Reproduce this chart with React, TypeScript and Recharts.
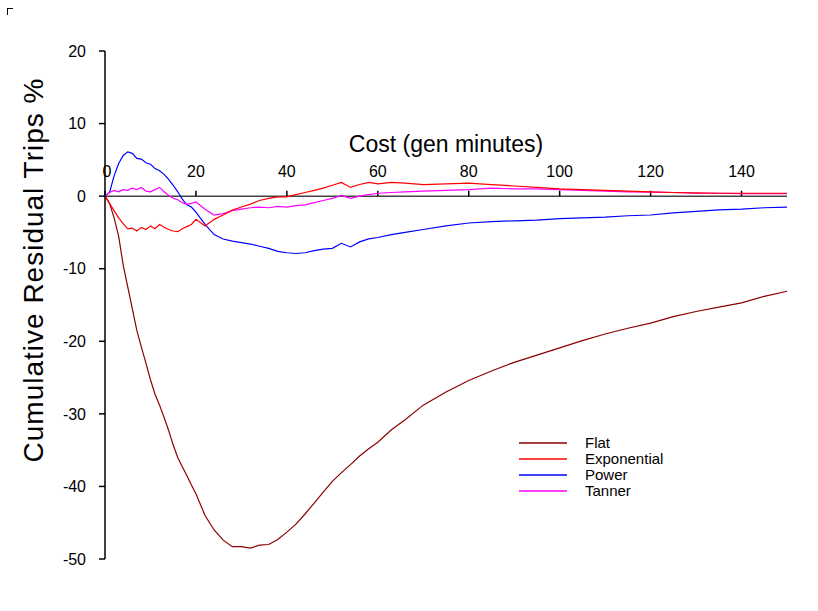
import React from "react";
import {
  LineChart,
  Line,
  XAxis,
  YAxis,
  ReferenceLine,
  ReferenceDot,
  Legend,
} from "recharts";

const cost = [
  0, 1, 2, 3, 4, 5, 6, 7, 8, 9, 10, 11, 12, 13, 14, 15, 16, 17, 18, 19, 20,
  22, 24, 26, 28, 30, 32, 34, 36, 38, 40, 42, 44, 46, 48, 50, 52, 54, 56, 58,
  60, 63, 66, 70, 75, 80, 85, 90, 95, 100, 105, 110, 115, 120, 125, 130, 135,
  140, 145, 150,
];

const flat = [
  0, -1, -3, -5.5, -9.5, -12.5, -15.5, -18.5, -20.8, -23, -25.3, -27.3, -28.8,
  -30.5, -32.3, -34.3, -36, -37.3, -38.5, -39.8, -41, -44, -46, -47.4, -48.3,
  -48.3, -48.5, -48.1, -48, -47.3, -46.3, -45.2, -43.8, -42.3, -40.8, -39.3,
  -38.1, -37, -35.8, -34.8, -33.9, -32.2, -30.8, -28.8, -27, -25.4, -24.1,
  -22.9, -21.9, -20.9, -19.9, -19, -18.2, -17.5, -16.6, -15.9, -15.3, -14.7,
  -13.8, -13.1,
];

const exponential = [
  0, -1, -2, -3, -3.8, -4.5, -4.4, -4.8, -4.3, -4.6, -4.1, -4.5, -3.9, -4.3,
  -4.6, -4.8, -4.9, -4.5, -4.2, -3.9, -3.2, -4.1, -3.2, -2.6, -1.9, -1.5, -1.1,
  -0.6, -0.3, -0.1, -0.1, 0.2, 0.5, 0.8, 1.1, 1.5, 1.9, 1.2, 1.6, 1.9, 1.7,
  1.9, 1.8, 1.6, 1.7, 1.8, 1.6, 1.4, 1.2, 1.0, 0.9, 0.8, 0.7, 0.6, 0.5, 0.45,
  0.4, 0.4, 0.4, 0.4,
];

const power = [
  0, 0.5, 2.8, 4.5, 5.6, 6.1, 5.9, 5.2, 5.1, 4.6, 4.4, 3.8, 3.5, 3.0, 2.3, 1.5,
  0.6, -0.4, -1.2, -1.5, -2.2, -3.9, -5.3, -5.9, -6.2, -6.4, -6.6, -6.9, -7.2,
  -7.6, -7.8, -7.9, -7.8, -7.5, -7.3, -7.2, -6.5, -7.0, -6.3, -5.9, -5.7, -5.3,
  -5.0, -4.6, -4.1, -3.7, -3.5, -3.4, -3.3, -3.1, -3.0, -2.9, -2.7, -2.6, -2.3,
  -2.1, -1.9, -1.8, -1.6, -1.5,
];

const tanner = [
  0, 0.5, 0.8, 0.6, 0.9, 0.8, 1.1, 0.9, 1.2, 0.7, 0.6, 0.9, 1.2, 0.6, 0.1,
  -0.3, -0.5, -0.9, -1.1, -1.0, -0.8, -1.8, -2.6, -2.4, -2.0, -1.8, -1.6, -1.5,
  -1.6, -1.4, -1.5, -1.3, -1.2, -0.9, -0.6, -0.3, 0.1, -0.3, 0.0, 0.2, 0.4,
  0.5, 0.6, 0.7, 0.8, 0.9, 1.1, 1.0, 1.0, 0.9, 0.8, 0.7, 0.6, 0.55, 0.5, 0.4,
  0.4, 0.35, 0.35, 0.35,
];

const seriesNames = ["Flat", "Exponential", "Power", "Tanner"];
const seriesColors = ["#8B0000", "#FF0000", "#0000FF", "#FF00FF"];
const drawOrder = ["Flat", "Power", "Tanner", "Exponential"];

const xTicks = [0, 20, 40, 60, 80, 100, 120, 140];
const yTicks = [-50, -40, -30, -20, -10, 0, 10, 20];
const xTitle = "Cost (gen minutes)";
const yTitle = "Cumulative Residual Trips %";

const data = cost.map((c, i) => ({
  cost: c,
  Flat: flat[i],
  Exponential: exponential[i],
  Power: power[i],
  Tanner: tanner[i],
}));

const FONT = "'Liberation Sans', Arial, Helvetica, sans-serif";

const renderLegend = () => (
  <div style={{ fontFamily: FONT, fontSize: 15, color: "#000" }}>
    {seriesNames.map((name, i) => (
      <div
        key={name}
        style={{ display: "flex", alignItems: "center", height: 16 }}
      >
        <svg width={48} height={4} style={{ marginRight: 18, display: "block" }}>
          <line
            x1={0}
            y1={2}
            x2={48}
            y2={2}
            stroke={seriesColors[i]}
            strokeWidth={1.5}
          />
        </svg>
        <span style={{ lineHeight: "16px" }}>{name}</span>
      </div>
    ))}
  </div>
);

const YTitle = (props: any) => {
  const vb = props.viewBox || { x: 45, y: 51, width: 60, height: 508 };
  const cx = vb.x - 2;
  const cy = vb.y + vb.height / 2 - 35;
  return (
    <text
      transform={`translate(${cx},${cy}) rotate(-90)`}
      textAnchor="middle"
      fontFamily={FONT}
      fontSize={28}
      letterSpacing={1}
      fill="#000"
    >
      {yTitle}
    </text>
  );
};

export default function App() {
  return (
    <div style={{ position: "absolute", left: 0, top: 0, width: 818, height: 611, background: "#fff" }}>
      <div
        style={{
          position: "absolute",
          left: 7,
          top: 8,
          width: 5,
          height: 6,
          borderLeft: "1px solid #000",
          borderTop: "1px solid #000",
        }}
      />
      <LineChart
        width={818}
        height={611}
        data={data}
        margin={{ top: 51, right: 31, bottom: 52, left: 45 }}
      >
        <XAxis
          dataKey="cost"
          type="number"
          domain={[0, 150]}
          ticks={xTicks}
          hide
        />
        <YAxis
          type="number"
          domain={[-50, 20]}
          ticks={yTicks}
          width={60}
          interval={0}
          axisLine={{ stroke: "#000", strokeWidth: 1.5 }}
          tickLine={{ stroke: "#000", strokeWidth: 1.5 }}
          tickSize={6}
          tickMargin={13}
          tick={{ fill: "#000", fontSize: 16, fontFamily: FONT }}
          label={{ content: <YTitle /> }}
        />
        <ReferenceLine y={0} stroke="#444" strokeWidth={1.5} />
        {xTicks.map((t) => (
          <ReferenceLine
            key={`t${t}`}
            segment={[
              { x: t, y: 0 },
              { x: t, y: 0.75 },
            ]}
            stroke="#000"
            strokeWidth={1.5}
          />
        ))}
        {xTicks.map((t) => (
          <ReferenceDot
            key={`l${t}`}
            x={t}
            y={0}
            r={0}
            stroke="none"
            fill="none"
            label={(p: any) => {
              const vb = p.viewBox || {};
              return (
                <text
                  x={vb.x + (t === 0 ? 2 : 0)}
                  y={vb.y - 19}
                  textAnchor="middle"
                  fontFamily={FONT}
                  fontSize={16}
                  fill="#000"
                >
                  {t}
                </text>
              );
            }}
          />
        ))}
        <ReferenceDot
          x={75}
          y={6.06}
          r={0}
          stroke="none"
          fill="none"
          label={(p: any) => {
            const vb = p.viewBox || {};
            return (
              <text
                x={vb.x}
                y={vb.y}
                textAnchor="middle"
                fontFamily={FONT}
                fontSize={23}
                fill="#000"
              >
                {xTitle}
              </text>
            );
          }}
        />
        {drawOrder.map((name) => (
          <Line
            key={name}
            dataKey={name}
            stroke={seriesColors[seriesNames.indexOf(name)]}
            strokeWidth={1.2}
            dot={false}
            isAnimationActive={false}
          />
        ))}
        <Legend
          layout="vertical"
          align="center"
          verticalAlign="middle"
          content={renderLegend}
          wrapperStyle={{ left: 519, top: 435, width: "auto" }}
        />
      </LineChart>
    </div>
  );
}
